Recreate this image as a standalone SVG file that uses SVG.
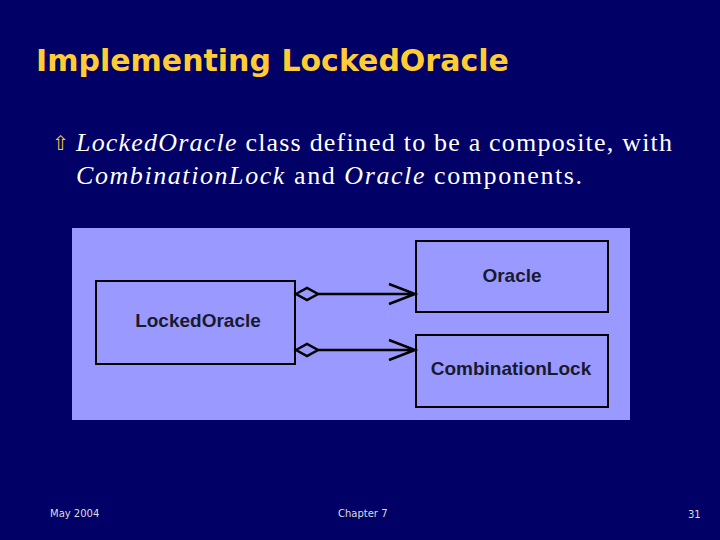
<svg xmlns="http://www.w3.org/2000/svg" width="720" height="540" viewBox="0 0 720 540">
<style>
.box{fill:#9999ff;stroke:#000;stroke-width:2}
.lbl{font-family:"Liberation Sans",Arial,sans-serif;font-weight:bold;font-size:19px;fill:#1a1a2e;text-anchor:middle}
.con{stroke:#000;stroke-width:2.5;fill:none}
.body{font-family:"Liberation Serif","Times New Roman",serif;font-size:26px;fill:#fff}
.foot{font-family:"DejaVu Sans",sans-serif;font-size:10px;fill:#ddd}
</style>
<rect width="720" height="540" fill="#000066"/>
<text x="36" y="71" font-family="'DejaVu Sans',sans-serif" font-weight="bold" font-size="30" fill="#ffcc33">Implementing LockedOracle</text>
<text x="52" y="150" font-family="'DejaVu Sans',sans-serif" font-size="20" fill="#ffcc33">⇧</text>
<text class="body" x="76" y="151" textLength="596" lengthAdjust="spacing"><tspan font-style="italic">LockedOracle</tspan> class defined to be a composite, with</text>
<text class="body" x="76" y="184" textLength="506" lengthAdjust="spacing"><tspan font-style="italic">CombinationLock</tspan> and <tspan font-style="italic">Oracle</tspan> components.</text>
<rect x="72" y="228" width="558" height="192" fill="#9999ff"/>
<g id="LockedOracle"><rect class="box" x="96" y="281" width="199" height="83"/><text class="lbl" x="198" y="327">LockedOracle</text></g>
<g id="Oracle"><rect class="box" x="416" y="241" width="192" height="71"/><text class="lbl" x="512" y="282">Oracle</text></g>
<g id="CombinationLock"><rect class="box" x="416" y="335" width="192" height="72"/><text class="lbl" x="511" y="375">CombinationLock</text></g>
<g id="connectors">
<path class="con" d="M318 294H416M389 284L415 294L389 304"/>
<path d="M296 294L307 288L318 294L307 300Z" fill="#9999ff" stroke="#000" stroke-width="2.5"/>
<path class="con" d="M318 350H416M389 340L415 350L389 360"/>
<path d="M296 350L307 344L318 350L307 356Z" fill="#9999ff" stroke="#000" stroke-width="2.5"/>
</g>
<text class="foot" x="50" y="517">May 2004</text>
<text class="foot" x="338" y="517">Chapter 7</text>
<text class="foot" x="688" y="518">31</text>
</svg>
